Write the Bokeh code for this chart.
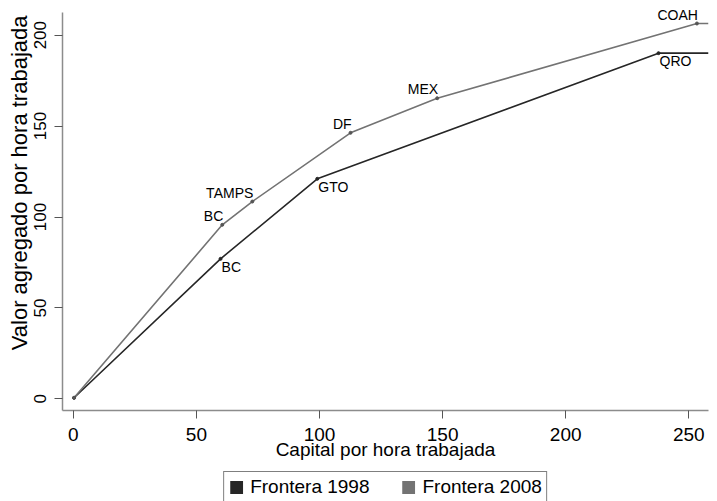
import math
from bokeh.plotting import figure
from bokeh.layouts import column
from bokeh.models import Range1d, Legend, LegendItem, Title, FixedTicker, ColumnDataSource
from bokeh.core.properties import value
from bokeh.embed import file_html
from bokeh.resources import INLINE

# ---- data ----
states_1998 = ["", "BC", "GTO", "QRO"]
capital_1998 = [0.3, 59.8, 99.1, 237.7]
valor_1998 = [0.6, 77.0, 121.0, 190.1]

states_2008 = ["", "BC", "TAMPS", "DF", "MEX", "COAH"]
capital_2008 = [0.3, 60.5, 72.7, 112.6, 147.8, 253.3]
valor_2008 = [0.6, 95.7, 108.5, 146.3, 165.3, 206.4]

series_names = ["Frontera 1998", "Frontera 2008"]
x_ticks = [0, 50, 100, 150, 200, 250]
y_ticks = [0, 50, 100, 150, 200]
X_MIN, X_MAX = -4.4, 258.0
Y_MIN, Y_MAX = -6.4, 216.3
Y_AXIS_TOP = 212.5

C1998 = "#262626"
C2008 = "#737373"
FONT = "Liberation Sans"

p = figure(width=717, height=470, output_backend="svg", toolbar_location=None,
           x_range=Range1d(X_MIN, X_MAX), y_range=Range1d(Y_MIN, Y_MAX),
           min_border_left=62, min_border_right=9, min_border_top=5, min_border_bottom=60)
p.outline_line_color = None
p.grid.visible = False

# frontier lines extended flat to the right edge
p.line(capital_1998 + [X_MAX], valor_1998 + [valor_1998[-1]], line_color=C1998, line_width=1.6)
p.line(capital_2008 + [X_MAX], valor_2008 + [valor_2008[-1]], line_color=C2008, line_width=1.6)
p.scatter(capital_1998, valor_1998, size=3, color=C1998)
p.scatter(capital_2008, valor_2008, size=3, color="#555555")

s98 = ColumnDataSource(dict(x=capital_1998, y=valor_1998, t=states_1998))
s08 = ColumnDataSource(dict(x=capital_2008, y=valor_2008, t=states_2008))
p.text(x="x", y="y", text="t", source=s98, text_font=value(FONT), text_font_size="14px",
       text_color="black", text_align="left", text_baseline="top", x_offset=1, y_offset=0)
p.text(x="x", y="y", text="t", source=s08, text_font=value(FONT), text_font_size="14px",
       text_color="black", text_align="right", text_baseline="bottom", x_offset=1, y_offset=-1)

# axes
for ax in (p.xaxis, p.yaxis):
    ax.axis_line_color = "#8c8c8c"
    ax.axis_line_width = 1.5
    ax.major_tick_line_color = "#555555"
    ax.major_tick_in = 0
    ax.minor_tick_line_color = None
    ax.major_label_text_font = FONT
    ax.major_label_text_color = "black"

p.yaxis.bounds = (Y_MIN, Y_AXIS_TOP)
p.xaxis.major_label_text_font_size = "19px"
p.yaxis.major_label_text_font_size = "17px"
p.xaxis.ticker = FixedTicker(ticks=x_ticks)
p.yaxis.ticker = FixedTicker(ticks=y_ticks)
p.xaxis.major_tick_out = 8
p.yaxis.major_tick_out = 8
p.xaxis.major_label_standoff = 9
p.yaxis.major_label_standoff = 8
p.yaxis.major_label_orientation = "vertical"
p.xaxis.axis_label = "Capital por hora trabajada"
p.xaxis.axis_label_text_font = FONT
p.xaxis.axis_label_text_font_size = "19px"
p.xaxis.axis_label_text_font_style = "normal"
p.xaxis.axis_label_text_color = "black"
p.xaxis.axis_label_standoff = -5

ytitle = Title(text="Valor agregado por hora trabajada", align="right", offset=10,
               text_font=FONT, text_font_size="22px", text_font_style="normal",
               text_color="black", standoff=0)
p.add_layout(ytitle, "left")

# legend strip below the chart (square swatches)
lf = figure(width=717, height=31, output_backend="svg", toolbar_location=None,
            x_range=Range1d(X_MIN, X_MAX), y_range=Range1d(Y_MIN, Y_MAX),
            x_axis_type=None, y_axis_type=None,
            min_border_left=0, min_border_right=0, min_border_top=0, min_border_bottom=0)
lf.outline_line_color = None
lf.grid.visible = False
q1 = lf.quad(left=capital_1998[:1], right=capital_1998[:1], top=valor_1998[:1], bottom=valor_1998[:1],
             fill_color=C1998, line_color=None, visible=False)
q2 = lf.quad(left=capital_2008[:1], right=capital_2008[:1], top=valor_2008[:1], bottom=valor_2008[:1],
             fill_color=C2008, line_color=None, visible=False)
legend = Legend(items=[LegendItem(label=series_names[0], renderers=[q1]),
                       LegendItem(label=series_names[1], renderers=[q2])],
                orientation="horizontal", location="top_center",
                label_text_font=FONT, label_text_font_size="19px", label_text_color="black",
                glyph_width=16, glyph_height=16, label_standoff=6, spacing=31,
                padding=4, margin=1, border_line_color="black", border_line_width=1,
                background_fill_alpha=1, inactive_fill_alpha=0)
lf.add_layout(legend)

open("out.html", "w").write(file_html(column(p, lf, spacing=0), INLINE))
